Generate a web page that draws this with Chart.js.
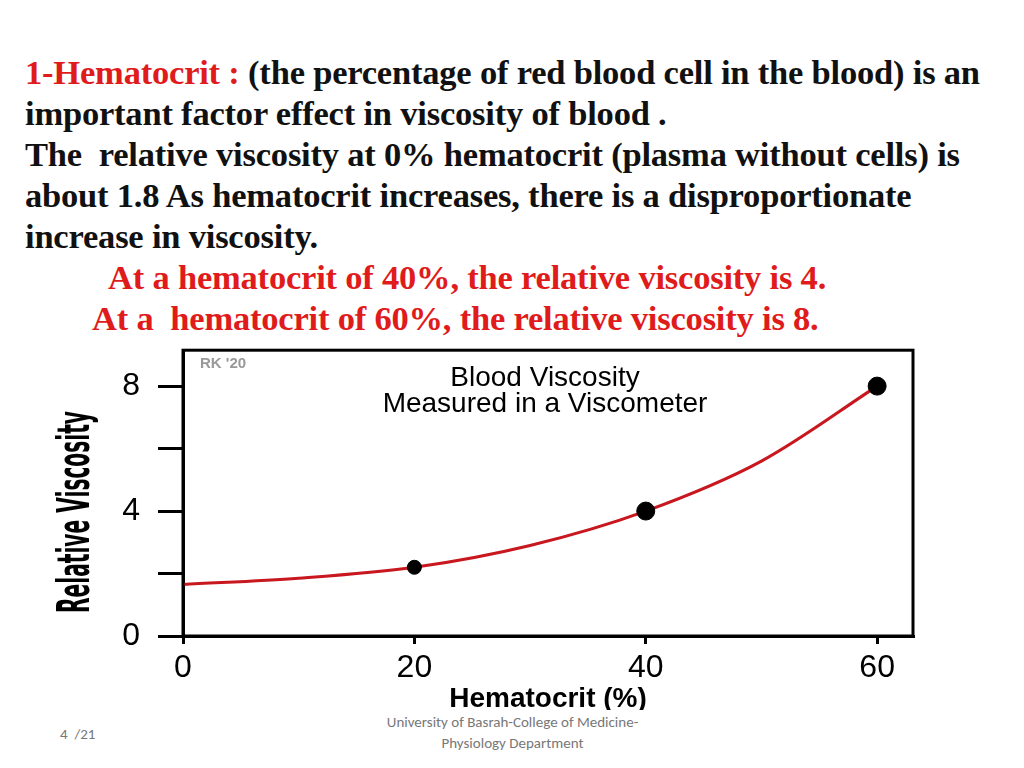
<!DOCTYPE html>
<html><head><meta charset="utf-8">
<script src="https://cdn.jsdelivr.net/npm/chart.js@4"></script>
<style>
body{margin:0;width:1024px;height:768px;background:#fff;position:relative;overflow:hidden;font-family:"Liberation Serif",serif}
#txt{position:absolute;left:25px;top:52px;font-size:34.5px;font-weight:bold;line-height:41px;color:#111;white-space:nowrap;letter-spacing:-0.2px}
.r{color:#e01b1b}
#cv{position:absolute;left:0;top:313px}
.ft{position:absolute;font-family:Calibri,"Liberation Sans",sans-serif;font-size:15px;color:#777}
</style></head><body>
<div id="txt"><span class="r">1-Hematocrit : </span>(the percentage of red blood cell in the blood) is an<br>important factor effect in viscosity of blood .<br>The &nbsp;relative viscosity at 0% hematocrit (plasma without cells) is<br>about 1.8 As hematocrit increases, there is a disproportionate<br>increase in viscosity.<br><span class="r" style="margin-left:83px">At a hematocrit of 40%, the relative viscosity is 4.</span><br><span class="r" style="margin-left:67px">At a &nbsp;hematocrit of 60%, the relative viscosity is 8.</span></div>
<canvas id="cv" width="1024" height="397"></canvas>
<div class="ft" style="left:60px;top:725px">4 &nbsp;/21</div>
<div class="ft" style="left:370px;top:712px;width:285px;text-align:center;line-height:21px">University of Basrah-College of Medicine-<br>Physiology Department</div>
<script>
const curveX=[0,10,20,30,40,50,60];
const curveY=[1.65,1.85,2.2,2.9,4.0,5.6,8.0];
const pointX=[20,40,60];
const pointY=[2.2,4.0,8.0];
const yLabels=[0,4,8];
const xLabels=[0,20,40,60];
const OY=313;
const frame={id:'frame',afterDraw(c){const a=c.chartArea,x=c.ctx;x.save();x.lineWidth=3;x.strokeStyle='#000';x.strokeRect(a.left,a.top,a.right-a.left,a.bottom-a.top);
x.fillStyle='#000';x.textAlign='center';x.font='28px "Liberation Sans",sans-serif';x.fillText('Blood Viscosity',545,386-OY);x.fillText('Measured in a Viscometer',545,412-OY);
x.fillStyle='#999';x.textAlign='left';x.font='bold 15px "Liberation Sans",sans-serif';x.fillText("RK '20",200,368-OY);
x.translate(78,512-OY);x.rotate(-Math.PI/2);x.fillStyle='#000';x.textAlign='center';x.textBaseline='middle';x.font='bold 34px "Liberation Sans Narrow","DejaVu Sans Condensed",sans-serif';x.scale(0.66,1.3);x.fillText('Relative Viscosity',0,0);
x.restore();}};
const tickFont={family:'"Liberation Sans",sans-serif',size:32};
new Chart(document.getElementById('cv'),{type:'scatter',
data:{datasets:[
{data:pointX.map((v,i)=>({x:v,y:pointY[i]})),backgroundColor:'#000',borderColor:'#000',pointRadius:[7,9,9],pointStyle:'circle',order:0},
{type:'line',data:curveX.map((v,i)=>({x:v,y:curveY[i]})),borderColor:'#c8171e',borderWidth:3,pointRadius:0,cubicInterpolationMode:'monotone',order:1}]},
options:{animation:false,responsive:false,plugins:{legend:{display:false},tooltip:{enabled:false}},
layout:{padding:{top:10,right:111,left:0,bottom:0}},
scales:{x:{type:'linear',min:0,max:63.1,afterFit(s){s.height=74},afterBuildTicks(s){s.ticks=xLabels.map(v=>({value:v}))},
 grid:{drawOnChartArea:false,color:'#000',lineWidth:3,tickLength:8},border:{color:'#000',width:3},
 ticks:{color:'#000',font:tickFont,padding:5,maxRotation:0},
 title:{display:true,text:'Hematocrit (%)',color:'#000',font:{family:'"Liberation Sans",sans-serif',size:28,weight:'bold'},padding:{top:0,bottom:-6}}},
y:{min:0,max:9.15,afterFit(s){s.width=183},afterBuildTicks(s){s.ticks=[0,2,4,6,8].map(v=>({value:v}))},
 grid:{drawOnChartArea:false,color:'#000',lineWidth:3,tickLength:25},border:{color:'#000',width:3},
 ticks:{color:'#000',font:tickFont,padding:18,callback:v=>yLabels.includes(v)?String(v):''}}}},
plugins:[frame]});
</script></body></html>
